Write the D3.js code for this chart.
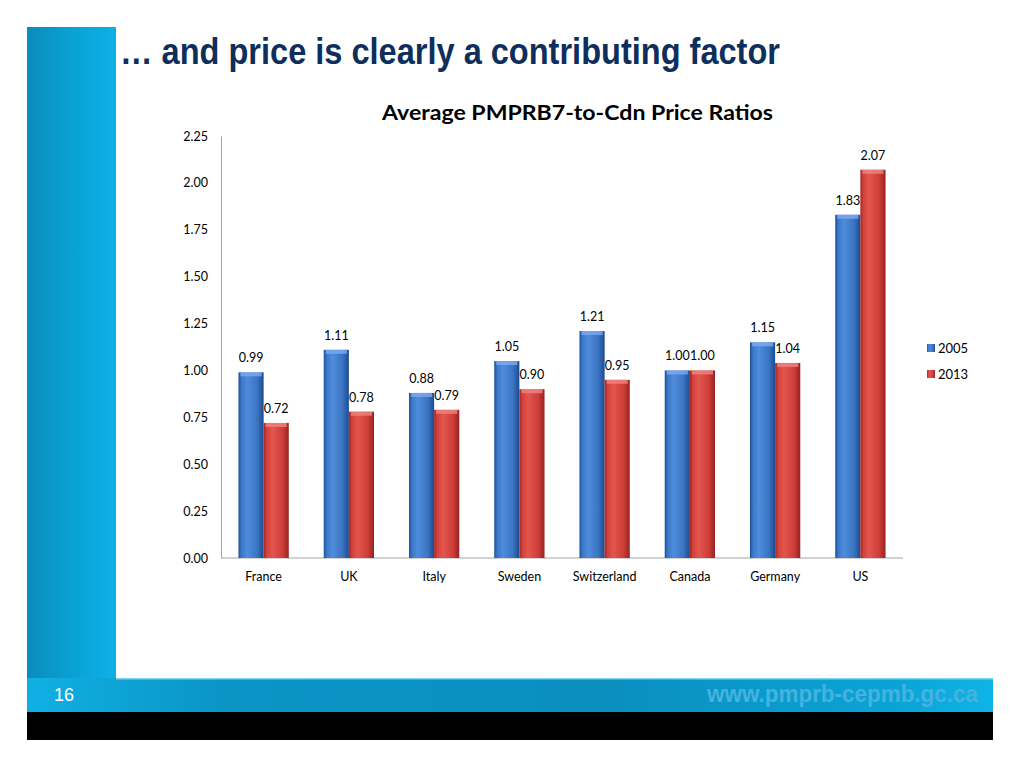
<!DOCTYPE html>
<html><head><meta charset="utf-8">
<script src="https://cdn.jsdelivr.net/npm/d3@7"></script>
<style>body{margin:0;background:#fff}svg{display:block}</style>
</head><body>
<svg id="c" width="1024" height="768"></svg>
<script>
const categories = ["France","UK","Italy","Sweden","Switzerland","Canada","Germany","US"];
const series2005 = [0.99,1.11,0.88,1.05,1.21,1.00,1.15,1.83];
const series2013 = [0.72,0.78,0.79,0.90,0.95,1.00,1.04,2.07];
const seriesNames = ["2005","2013"];
const yTicks = [0,0.25,0.5,0.75,1.0,1.25,1.5,1.75,2.0,2.25];

const svg = d3.select("#c");
const defs = svg.append("defs");
function hGrad(id, stops){
  const g = defs.append("linearGradient").attr("id",id).attr("x1","0").attr("x2","1").attr("y1","0").attr("y2","0");
  stops.forEach(s=>g.append("stop").attr("offset",s[0]).attr("stop-color",s[1]));
}
hGrad("leftcol",[[0,"#0a8cbd"],[0.4,"#0a9dd0"],[1,"#0cb2e6"]]);
hGrad("band",[[0,"#10b0e4"],[0.2,"#0a95c6"],[0.6,"#0a8fbf"],[0.9,"#0aa3d6"],[1,"#10b4e6"]]);
hGrad("blueBar",[[0,"#1e4f96"],[0.12,"#3a78c9"],[0.35,"#4f8cdb"],[0.75,"#3a74c2"],[1,"#1c4a8e"]]);
hGrad("redBar",[[0,"#9e2522"],[0.12,"#d4403b"],[0.35,"#e25650"],[0.75,"#cf3d38"],[1,"#952320"]]);

const narrow = "Liberation Sans Narrow, Arial Narrow, Liberation Sans, sans-serif";
svg.append("rect").attr("x",27).attr("y",27).attr("width",89).attr("height",660).attr("fill","url(#leftcol)");
svg.append("rect").attr("x",27).attr("y",678).attr("width",966).attr("height",35).attr("fill","url(#band)");
svg.append("rect").attr("x",116).attr("y",678).attr("width",877).attr("height",1.5).attr("fill","#7fd4f0");
svg.append("rect").attr("x",27).attr("y",712).attr("width",966).attr("height",28).attr("fill","#000");
svg.append("text").attr("x",54).attr("y",701).attr("fill","#fff").attr("font-family",narrow).attr("font-size",19)
  .attr("textLength",20).attr("lengthAdjust","spacingAndGlyphs").text("16");
svg.append("text").attr("x",707).attr("y",702).attr("fill","#45b3de").attr("font-weight","bold")
  .attr("font-family",narrow).attr("font-size",23).attr("textLength",271).attr("lengthAdjust","spacingAndGlyphs").text("www.pmprb-cepmb.gc.ca");

svg.append("text").attr("x",120).attr("y",64).attr("fill","#0e2f5c").attr("font-weight","bold")
  .attr("font-family",narrow).attr("font-size",37).attr("textLength",660).attr("lengthAdjust","spacingAndGlyphs")
  .text("\u2026 and price is clearly a contributing factor");

const fam = "Lato, Open Sans, sans-serif";
svg.append("text").attr("x",382).attr("y",120).attr("font-weight","bold")
  .attr("font-family",fam).attr("font-size",21).attr("fill","#000").attr("textLength",391).attr("lengthAdjust","spacingAndGlyphs")
  .text("Average PMPRB7-to-Cdn Price Ratios");

const x0 = d3.scaleBand().domain(categories).range([221,903]).paddingInner(0.41).paddingOuter(0.205);
const x1 = d3.scaleBand().domain(seriesNames).range([0,x0.bandwidth()]);
const y = d3.scaleLinear().domain([0,2.25]).range([558,136]);

const yAxis = d3.axisLeft(y).tickValues(yTicks).tickFormat(d3.format(".2f")).tickSize(0).tickPadding(13);
const ga = svg.append("g").attr("transform","translate(221,0)").call(yAxis);
ga.select(".domain").attr("stroke","#a6a6a6");
ga.selectAll("text").attr("font-family",fam).attr("font-size",12.5).attr("fill","#000");

const xAxis = d3.axisBottom(x0).tickSize(0).tickPadding(14);
const gx = svg.append("g").attr("transform","translate(0,558)").call(xAxis);
gx.select(".domain").attr("stroke","#a6a6a6").attr("d","M221,0H903");
gx.selectAll("text").attr("font-family",fam).attr("font-size",12.5).attr("fill","#000");

const data = categories.map((c,i)=>({c, vals:[{s:"2005",v:series2005[i]},{s:"2013",v:series2013[i]}]}));
const grp = svg.append("g").selectAll("g").data(data).join("g").attr("transform",d=>`translate(${x0(d.c)},0)`);
const bars = grp.selectAll("g").data(d=>d.vals).join("g");
bars.append("rect").attr("x",d=>x1(d.s)).attr("y",d=>y(d.v)).attr("width",x1.bandwidth()).attr("height",d=>y(0)-y(d.v))
  .attr("fill",d=>d.s==="2005"?"url(#blueBar)":"url(#redBar)");
bars.append("rect").attr("x",d=>x1(d.s)+2).attr("y",d=>y(d.v)).attr("width",x1.bandwidth()-4).attr("height",4)
  .attr("fill",d=>d.s==="2005"?"#7eaaf0":"#f08580").attr("opacity",0.8);
bars.append("text").attr("x",d=>x1(d.s)+x1.bandwidth()/2).attr("y",d=>y(d.v)-10).attr("text-anchor","middle")
  .attr("font-family",fam).attr("font-size",12.5).attr("fill","#000").text(d=>d3.format(".2f")(d.v));

const lg = svg.append("g").selectAll("g").data(seriesNames).join("g").attr("transform",(d,i)=>`translate(927,${344+i*26})`);
lg.append("rect").attr("width",8).attr("height",8).attr("fill",d=>d==="2005"?"url(#blueBar)":"url(#redBar)");
lg.append("text").attr("x",11).attr("y",9).attr("font-family",fam).attr("font-size",13).attr("fill","#000").text(d=>d);
</script>
</body></html>
